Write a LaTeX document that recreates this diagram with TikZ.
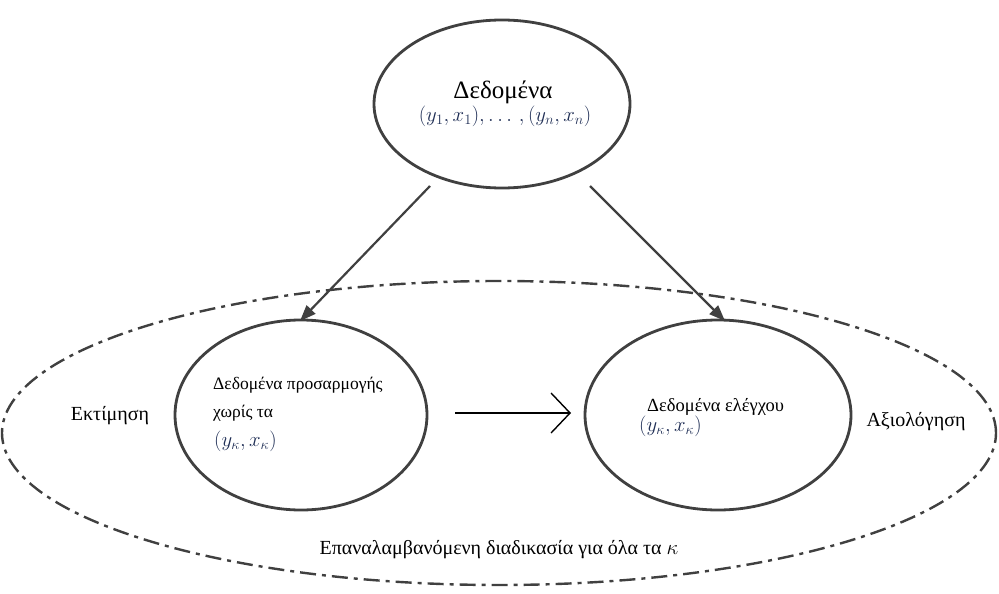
\documentclass[tikz,border=0pt]{standalone}
\usepackage{fontspec}
\setmainfont{Liberation Serif}
\usetikzlibrary{arrows.meta,shapes.geometric}
\definecolor{edge}{HTML}{404040}
\definecolor{mathc}{HTML}{1F2E55}
\tikzset{
  solidell/.style={ellipse, draw=edge, line width=2.8pt, inner sep=0pt},
  bigell/.style={ellipse, draw=edge, line width=2.4pt, inner sep=0pt, dash pattern=on 16pt off 6pt on 4pt off 6pt},
  conn/.style={draw=edge, line width=2.2pt, -{Triangle[length=16pt,width=12pt]}},
  lbl/.style={font=\fontsize{20}{22}\selectfont, inner sep=0pt},
  inl/.style={font=\fontsize{17.5}{20}\selectfont, inner sep=0pt},
  mth/.style={text=mathc}
}
\begin{document}
\begin{tikzpicture}[x=1pt,y=-1pt]
\useasboundingbox (0,0) rectangle (999,594);
\node[bigell, minimum width=994pt, minimum height=304pt] (big) at (499,433) {};
\node[solidell, minimum width=256pt, minimum height=168pt] (top) at (502,104) {};
\node[solidell, minimum width=252pt, minimum height=190pt] (left) at (301,415) {};
\node[solidell, minimum width=266pt, minimum height=190pt] (right) at (718,415) {};
\node[font=\fontsize{25}{28}\selectfont, inner sep=0pt] (t1) at (503,92) {Δεδομένα};
\node[mth, font=\fontsize{20}{22}\selectfont, inner sep=0pt] (t2) at (505,116) {$(y_1,x_1),\ldots\,,(y_n,x_n)$};
\node[inl, anchor=west] (l1) at (213,385) {Δεδομένα προσαρμογής};
\node[inl, anchor=west] (l2) at (213,413) {χωρίς τα};
\node[mth, font=\fontsize{19.5}{22}\selectfont, inner sep=0pt, anchor=west] (l3) at (214,441) {$(y_\kappa,x_\kappa)$};
\node[font=\fontsize{18.5}{20}\selectfont, inner sep=0pt, anchor=west] (r1) at (647,407) {Δεδομένα ελέγχου};
\node[mth, font=\fontsize{21}{22}\selectfont, inner sep=0pt, anchor=west] (r2) at (639,426) {$(y_\kappa,x_\kappa)$};
\node[lbl] (est) at (110,416) {Εκτίμηση};
\node[lbl] (eval) at (916,422) {Αξιολόγηση};
\node[lbl] (rep) at (499,550) {Επαναλαμβανόμενη διαδικασία για όλα τα $\kappa$};
\coordinate (a1s) at (430,186);
\coordinate (a1e) at (300,321);
\coordinate (a2s) at (590,186);
\coordinate (a2e) at (725,321);
\draw[conn] (a1s) -- (a1e);
\draw[conn] (a2s) -- (a2e);
\coordinate (ms) at (455,413);
\coordinate (me) at (571,413);
\draw[line width=1.4pt, -{Straight Barb[length=19pt,width=40pt,line width=1.4pt]}] (ms) -- (me);
\end{tikzpicture}
\end{document}
